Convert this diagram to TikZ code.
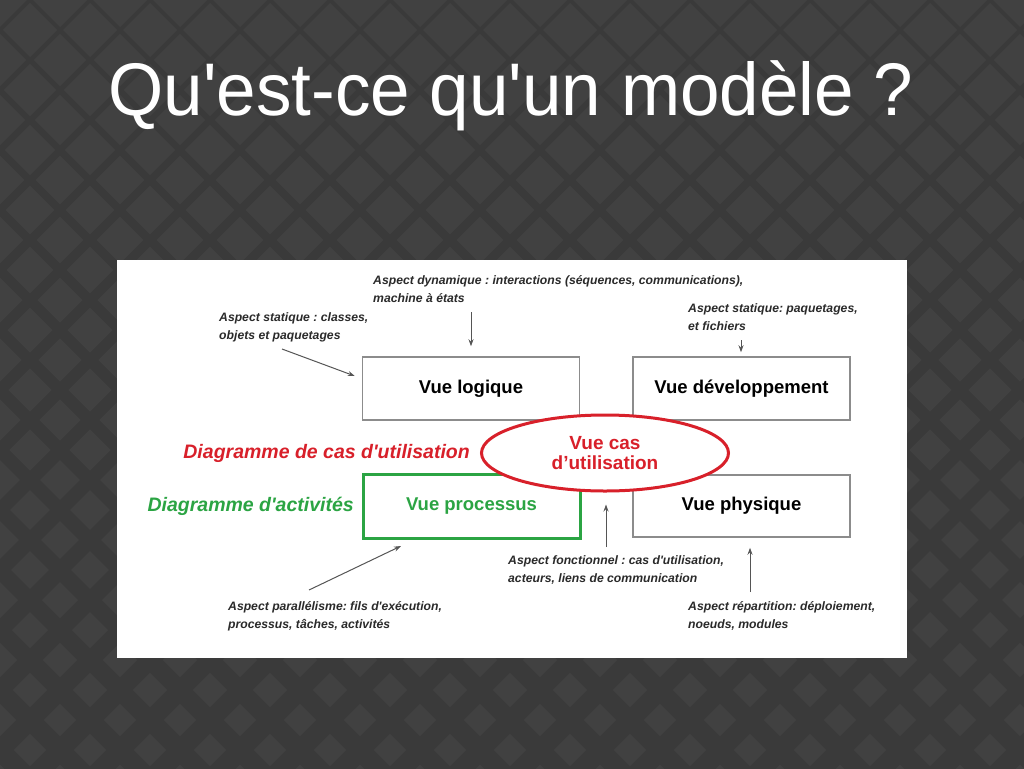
\documentclass[tikz,border=0pt]{standalone}
\usepackage{fontspec}
\setmainfont{Liberation Sans}
\usetikzlibrary{shapes.geometric,arrows.meta}
\definecolor{slate}{HTML}{3A3A3A}
\definecolor{tile}{HTML}{414141}
\definecolor{viewgray}{HTML}{8C8C8C}
\definecolor{notegray}{HTML}{2A2A2A}
\definecolor{arrowgray}{HTML}{555555}
\definecolor{casred}{HTML}{D8202A}
\definecolor{actgreen}{HTML}{2BA443}
\newcommand{\apos}{\textquotesingle}
\frenchspacing

\begin{document}
\begin{tikzpicture}[x=1pt,y=-1pt,>={Stealth[length=7pt,width=5pt]}]
        \tikzstyle{view}=[draw=viewgray,line width=1.5pt,minimum width=217pt,minimum height=63pt,font=\fontsize{18.5}{20}\selectfont\bfseries]
        \tikzstyle{aspect}=[anchor=base west,align=left,inner sep=0pt,text=notegray,font=\fontsize{12.2}{18}\selectfont\bfseries\itshape]
        \tikzstyle{diag}=[anchor=base east,inner sep=0pt,font=\fontsize{19.5}{20}\selectfont\bfseries\itshape]
        \tikzstyle{pointer}=[->,draw=arrowgray,line width=1pt]
        \useasboundingbox (0,0) rectangle (1024,768);
        % background
        \begin{scope}
          \clip (-3,-3) rectangle (1027,771);
          \fill[slate] (-3,-3) rectangle (1027,771);
          \foreach \i in {0,...,17}
            \foreach \j in {0,...,13} {
              \pgfmathsetmacro{\h}{27-0.9*\j}
              \fill[tile] (60*\i,60*\j) +(-\h,0) -- +(0,-\h) -- +(\h,0) -- +(0,\h) -- cycle;
              \fill[tile] (60*\i+30,60*\j+30) +(-\h,0) -- +(0,-\h) -- +(\h,0) -- +(0,\h) -- cycle;
            }
        \end{scope}
        \node [anchor=base,inner sep=0pt,text=white,font=\fontsize{71}{80}\selectfont] (title) at (511,115) {\scalebox{1}[1.05]{Qu\apos est-ce qu\apos un modèle ?}};
        \fill[white] (117,260) rectangle (907,658);
       \begin{scope}
         \node [view] (logique) at (471,388.5) {Vue logique};
         \node [view] (dev) at (741.5,388.5) {Vue développement};
         \node [view,draw=actgreen,line width=3pt,text=actgreen,minimum height=64pt] (processus) at (471.5,506.5) {Vue processus};
         \node [view,minimum height=62pt] (physique) at (741.5,506) {Vue physique};
         \node [ellipse,draw=casred,line width=3pt,fill=white,text=casred,align=center,inner sep=0pt,minimum width=247pt,minimum height=76pt,font=\fontsize{19}{20}\selectfont\bfseries] (cas) at (605,453) {Vue cas\\d’utilisation};
         \node [diag,text=casred] (diagcas) at (470,458) {Diagramme de cas d\apos utilisation};
         \node [diag,text=actgreen] (diagact) at (354,511) {Diagramme d\apos activités};
        \end{scope}
        % aspects (anchored on the last line)
        \node [aspect] (dyn) at (373,302) {Aspect dynamique : interactions (séquences, communications),\\machine à états};
        \node [aspect] (stat) at (219,339) {Aspect statique : classes,\\objets et paquetages};
        \node [aspect] (pkg) at (688,330) {Aspect statique: paquetages,\\et fichiers};
        \node [aspect] (fonc) at (508,582) {Aspect fonctionnel : cas d\apos utilisation,\\acteurs, liens de communication};
        \node [aspect] (rep) at (688,628) {Aspect répartition: déploiement,\\noeuds, modules};
        \node [aspect] (par) at (228,628) {Aspect parallélisme: fils d\apos exécution,\\processus, tâches, activités};
        \coordinate (dyntail) at (471,312);
        \coordinate (stattail) at (282,349);
        \coordinate (pkgtail) at (741,340);
        \coordinate (fonctail) at (606,547);
        \coordinate (reptail) at (750,592);
        \coordinate (partail) at (309,590);
        \draw[pointer] (dyntail) -- ([yshift=10pt]logique.north);
        \draw[pointer] (stattail) -- ([xshift=-7pt,yshift=12.5pt]logique.west);
        \draw[pointer] (pkgtail) -- ([xshift=-0.5pt,yshift=4pt]dev.north);
        \draw[pointer] (fonctail) -- ([xshift=1pt,yshift=-12pt]cas.south);
        \draw[pointer] (reptail) -- ([xshift=8.5pt,yshift=-10pt]physique.south);
        \draw[pointer] (partail) -- ([xshift=-70.5pt,yshift=-6pt]processus.south);
      \end{tikzpicture}
\end{document}
